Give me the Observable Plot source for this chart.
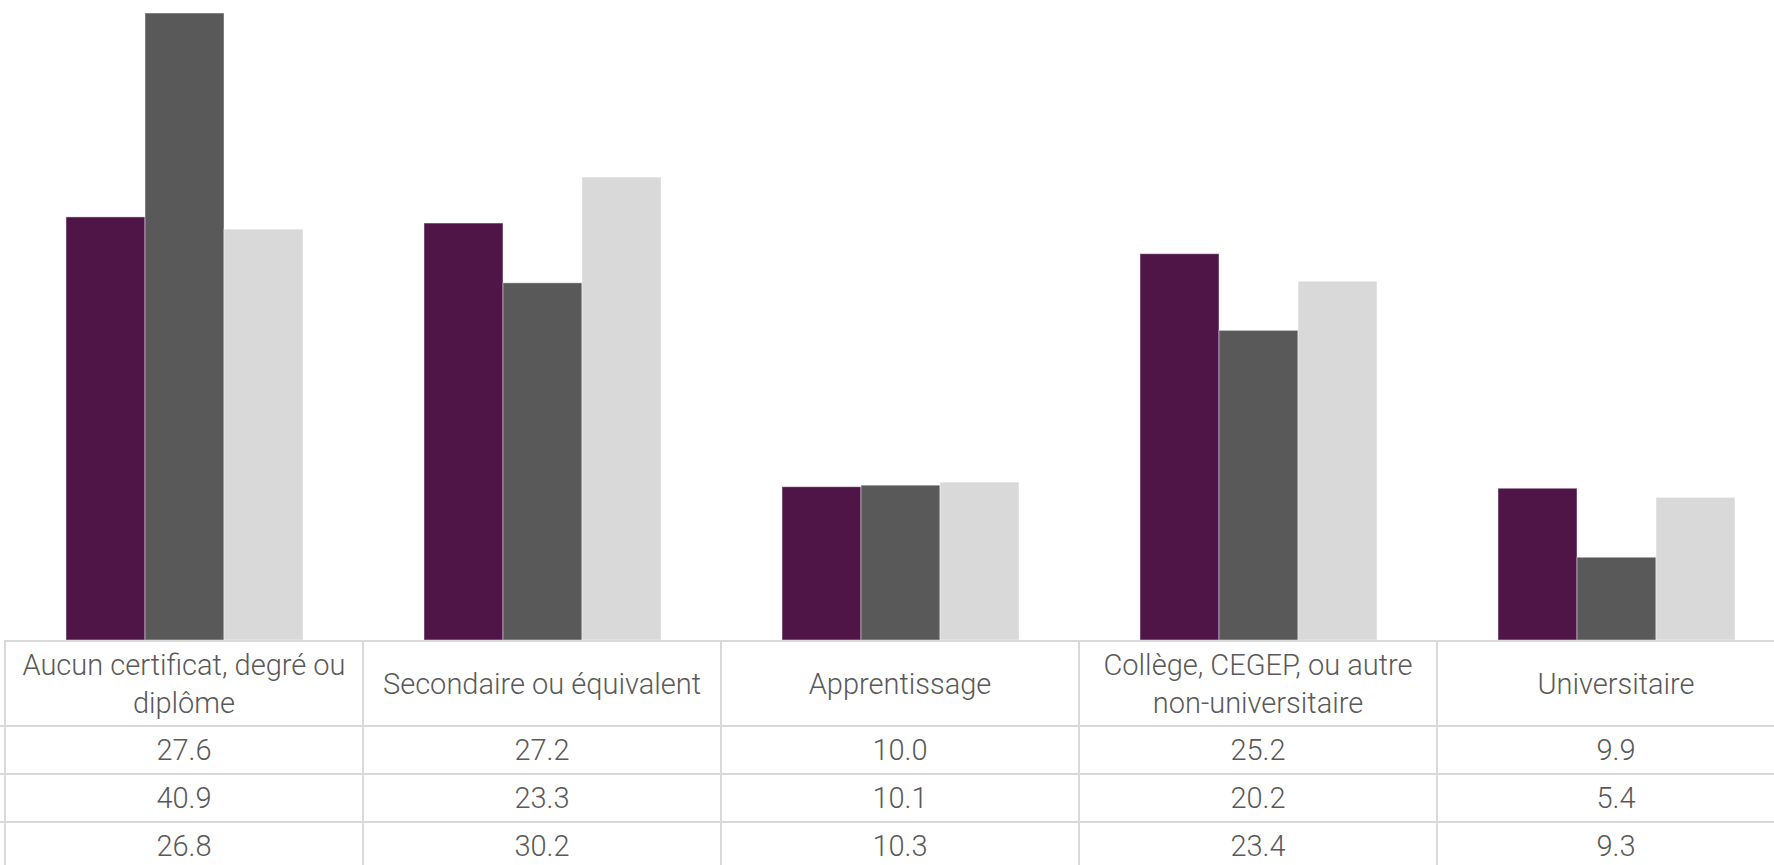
<!DOCTYPE html>
<html>
<head>
<meta charset="utf-8">
<script src="https://cdn.jsdelivr.net/npm/d3@7"></script>
<script src="https://cdn.jsdelivr.net/npm/@observablehq/plot@0.6"></script>
<style>
  html, body { margin: 0; padding: 0; background: #fff; overflow: hidden; width: 1774px; height: 865px; position: relative; }
  #chart { position: absolute; left: 0; top: 0; }
  #chart svg { display: block; }
  table.dt {
    position: absolute; top: 640px; left: -95px; width: 1890px;
    border-collapse: collapse; table-layout: fixed;
    font-family: Roboto, "Open Sans", sans-serif; font-weight: 300;
    font-size: 29px; color: #595959;
  }
  table.dt td { border: 2px solid #d9d9d9; text-align: center; padding: 0 4px; line-height: 38px; white-space: pre-line; overflow: hidden; }
  table.dt tr.head td { height: 83px; }
  table.dt tr.row td { height: 46px; padding-top: 0; padding-bottom: 0; }
  table.dt td.leg { border-left: none; }
  table.dt tr.head td.leg { border-top: none; }
</style>
</head>
<body>
<div id="chart"></div>
<script>
const categories = [
  "Aucun certificat, degré ou diplôme",
  "Secondaire ou équivalent",
  "Apprentissage",
  "Collège, CEGEP, ou autre non-universitaire",
  "Universitaire"
];
const tickLabels = [
  "Aucun certificat, degré ou\ndiplôme",
  "Secondaire ou équivalent",
  "Apprentissage",
  "Collège, CEGEP, ou autre\nnon-universitaire",
  "Universitaire"
];
const seriesNames = ["Série 1", "Série 2", "Série 3"];
const seriesColors = ["#4f1547", "#595959", "#d9d9d9"];
const series1 = [27.6, 27.2, 10.0, 25.2, 9.9];
const series2 = [40.9, 23.3, 10.1, 20.2, 5.4];
const series3 = [26.8, 30.2, 10.3, 23.4, 9.3];
const seriesValues = [series1, series2, series3];

const data = categories.flatMap((c, i) =>
  seriesNames.map((s, j) => ({cat: c, series: s, value: seriesValues[j][i]}))
);

const chart = Plot.plot({
  width: 1774,
  height: 640,
  marginTop: 0, marginBottom: 0, marginLeft: 0, marginRight: 0,
  fx: {domain: categories, range: [5, 1795], padding: 0, axis: null},
  x: {domain: seriesNames, paddingInner: 0, paddingOuter: 0.75, axis: null},
  y: {domain: [0, 41.75], axis: null},
  color: {domain: seriesNames, range: seriesColors},
  marks: [
    Plot.barY(data, {fx: "cat", x: "series", y: "value", fill: "series", stroke: "#ffffff", strokeOpacity: 0.45, strokeWidth: 1})
  ]
});
document.getElementById("chart").appendChild(chart);

// Data table below the chart (legend column lies off-canvas to the left, as in the reference)
const fmt = d3.format(".1f");
const table = document.createElement("table");
table.className = "dt";
const colgroup = document.createElement("colgroup");
const c0 = document.createElement("col"); c0.style.width = "100px"; colgroup.appendChild(c0);
categories.forEach(() => { const c = document.createElement("col"); c.style.width = "358px"; colgroup.appendChild(c); });
table.appendChild(colgroup);
const head = document.createElement("tr"); head.className = "head";
const hl = document.createElement("td"); hl.className = "leg"; head.appendChild(hl);
tickLabels.forEach(t => { const td = document.createElement("td"); td.textContent = t; head.appendChild(td); });
table.appendChild(head);
seriesValues.forEach((vals, j) => {
  const tr = document.createElement("tr"); tr.className = "row";
  const l = document.createElement("td"); l.className = "leg"; tr.appendChild(l);
  vals.forEach(v => { const td = document.createElement("td"); td.textContent = fmt(v); tr.appendChild(td); });
  table.appendChild(tr);
});
document.body.appendChild(table);
</script>
</body>
</html>
